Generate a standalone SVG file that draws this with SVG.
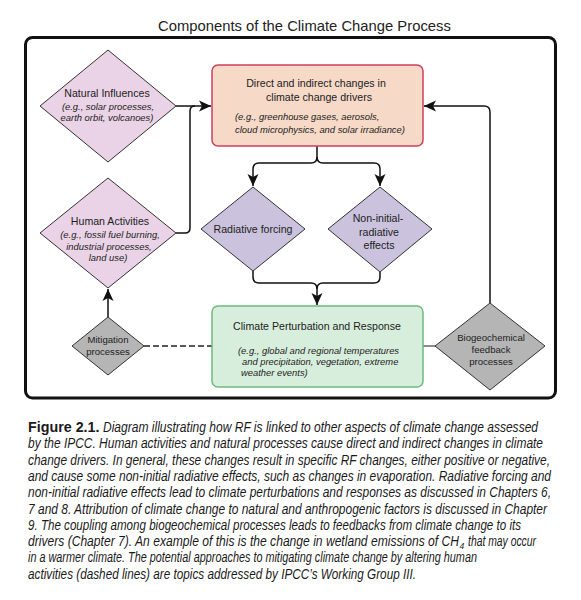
<svg xmlns="http://www.w3.org/2000/svg" width="581" height="600" viewBox="0 0 581 600">
<style>
.t{font-family:"Liberation Sans",Arial,sans-serif;fill:#222;}
.h{font-size:10.6px;}
.i{font-size:9.4px;font-style:italic;}
.s{font-size:9.6px;}
.c{font-family:"Liberation Sans",Arial,sans-serif;font-size:14px;font-style:italic;fill:#1a1a1a;}
.dpink{fill:#ead3e6;stroke:#333;stroke-width:1;}
.dlav{fill:#cbc2de;stroke:#333;stroke-width:1;}
.dgray{fill:#b5b5b5;stroke:#333;stroke-width:1;}
.ln{fill:none;stroke:#111;stroke-width:1.5;}
</style>
<defs>
<marker id="ah" markerUnits="userSpaceOnUse" markerWidth="12" markerHeight="12" viewBox="0 0 12 12" refX="12" refY="6" orient="auto">
<path d="M0,0.5 L12,6 L0,11.5 L3,6 z" fill="#111"/>
</marker>
</defs>
<rect width="581" height="600" fill="#fff"/>
<text class="t" x="158" y="31" font-size="14.8">Components of the Climate Change Process</text>
<rect x="25.5" y="37.5" width="530" height="360.5" rx="7" fill="none" stroke="#111" stroke-width="3"/>

<g id="connectors">
<path class="ln" d="M176,106 H211" marker-end="url(#ah)"/>
<path class="ln" d="M176,233 H185 Q190,233 190,228 V111 Q190,106 195,106"/>
<path class="ln" d="M317,146 V157 Q317,163 311,163 H259 Q253,163 253,169 V186" marker-end="url(#ah)"/>
<path class="ln" d="M317,157 Q317,163 323,163 H374 Q380,163 380,169 V186" marker-end="url(#ah)"/>
<path class="ln" d="M253,270 V277 Q253,283 259,283 H311 Q317,283 317,289 V305" marker-end="url(#ah)"/>
<path class="ln" d="M380,272 V277 Q380,283 374,283 H323 Q317,283 317,289"/>
<path class="ln" d="M108,317 V289" marker-end="url(#ah)"/>
<path d="M144,346 H212" fill="none" stroke="#222" stroke-width="1.3" stroke-dasharray="6,3"/>
<path d="M423,346 H436" fill="none" stroke="#666" stroke-width="1.5"/>
<path class="ln" d="M490,303 V112 Q490,106 484,106 H424" marker-end="url(#ah)"/>
</g>

<g id="natural">
<polygon class="dpink" points="108,50 176,106 108,162 40,106"/>
<text class="t h" x="107" y="97" text-anchor="middle">Natural Influences</text>
<text class="t i" x="108" y="110" text-anchor="middle">(e.g., solar processes,</text>
<text class="t i" x="107" y="121" text-anchor="middle">earth orbit, volcanoes)</text>
</g>

<g id="human">
<polygon class="dpink" points="108,178 176,233 108,288 40,233"/>
<text class="t h" x="110" y="225" text-anchor="middle">Human Activities</text>
<text class="t i" x="110" y="238" text-anchor="middle">(e.g., fossil fuel burning,</text>
<text class="t i" x="109" y="250" text-anchor="middle">industrial processes,</text>
<text class="t i" x="108" y="261" text-anchor="middle">land use)</text>
</g>

<g id="mitigation">
<polygon class="dgray" points="108,317 144,346 108,375 72,346"/>
<text class="t s" x="108" y="343" text-anchor="middle">Mitigation</text>
<text class="t s" x="108" y="355" text-anchor="middle">processes</text>
</g>

<g id="drivers">
<rect x="212" y="65" width="211" height="81" rx="6" fill="#f6d9c6" stroke="#cf3f5e" stroke-width="1.5"/>
<text class="t h" x="316" y="87" text-anchor="middle">Direct and indirect changes in</text>
<text class="t h" x="319" y="101" text-anchor="middle">climate change drivers</text>
<text class="t i" x="235" y="120">(e.g., greenhouse gases, aerosols,</text>
<text class="t i" x="235" y="133">cloud microphysics, and solar irradiance)</text>
</g>

<g id="radiative">
<polygon class="dlav" points="253,187 305,229 253,271 201,229"/>
<text class="t h" x="253" y="233" text-anchor="middle">Radiative forcing</text>
</g>

<g id="noninitial">
<polygon class="dlav" points="380,187 432,229 380,272 328,229"/>
<text class="t h" x="378" y="222" text-anchor="middle">Non-initial-</text>
<text class="t h" x="379" y="236" text-anchor="middle">radiative</text>
<text class="t h" x="379" y="249" text-anchor="middle">effects</text>
</g>

<g id="climate">
<rect x="212" y="306" width="211" height="81" rx="6" fill="#d8eedc" stroke="#6cba80" stroke-width="1.5"/>
<text class="t h" x="317" y="330" text-anchor="middle">Climate Perturbation and Response</text>
<text class="t i" x="238" y="354">(e.g., global and regional temperatures</text>
<text class="t i" x="242" y="365">and precipitation, vegetation, extreme</text>
<text class="t i" x="241" y="376">weather events)</text>
</g>

<g id="biogeo">
<polygon class="dgray" points="490,303 545,346 490,390 435,346"/>
<text class="t s" x="491" y="341" text-anchor="middle">Biogeochemical</text>
<text class="t s" x="491" y="353" text-anchor="middle">feedback</text>
<text class="t s" x="491" y="365" text-anchor="middle">processes</text>
</g>

<g id="caption">
<text x="28" y="432" font-family="'Liberation Sans',Arial,sans-serif" font-size="14.3" font-weight="bold" fill="#1a1a1a">Figure 2.1.</text>
<text class="c" transform="translate(103,432) scale(0.85,1)" textLength="511.8" lengthAdjust="spacingAndGlyphs">Diagram illustrating how RF is linked to other aspects of climate change assessed</text>
<text class="c" transform="translate(28,448.3) scale(0.85,1)" textLength="605.9" lengthAdjust="spacingAndGlyphs">by the IPCC. Human activities and natural processes cause direct and indirect changes in climate</text>
<text class="c" transform="translate(28,464.6) scale(0.85,1)" textLength="614.1" lengthAdjust="spacingAndGlyphs">change drivers. In general, these changes result in specific RF changes, either positive or negative,</text>
<text class="c" transform="translate(28,480.9) scale(0.85,1)" textLength="615.3" lengthAdjust="spacingAndGlyphs">and cause some non-initial radiative effects, such as changes in evaporation. Radiative forcing and</text>
<text class="c" transform="translate(28,497.2) scale(0.85,1)" textLength="615.3" lengthAdjust="spacingAndGlyphs">non-initial radiative effects lead to climate perturbations and responses as discussed in Chapters 6,</text>
<text class="c" transform="translate(28,513.5) scale(0.85,1)" textLength="610.6" lengthAdjust="spacingAndGlyphs">7 and 8. Attribution of climate change to natural and anthropogenic factors is discussed in Chapter</text>
<text class="c" transform="translate(28,529.8) scale(0.85,1)" textLength="580" lengthAdjust="spacingAndGlyphs">9. The coupling among biogeochemical processes leads to feedbacks from climate change to its</text>
<text class="c" transform="translate(28,546.1) scale(0.85,1)" textLength="507" lengthAdjust="spacingAndGlyphs">drivers (Chapter 7). An example of this is the change in wetland emissions of CH</text>
<text class="c" x="459.5" y="549" style="font-size:8.5px">4</text>
<text class="c" transform="translate(468,546.1) scale(0.85,1)" textLength="80" lengthAdjust="spacingAndGlyphs">that may occur</text>
<text class="c" transform="translate(28,562.4) scale(0.85,1)" textLength="528.2" lengthAdjust="spacingAndGlyphs">in a warmer climate. The potential approaches to mitigating climate change by altering human</text>
<text class="c" transform="translate(28,578.7) scale(0.85,1)" textLength="456.5" lengthAdjust="spacingAndGlyphs">activities (dashed lines) are topics addressed by IPCC’s Working Group III.</text>
</g>
</svg>
